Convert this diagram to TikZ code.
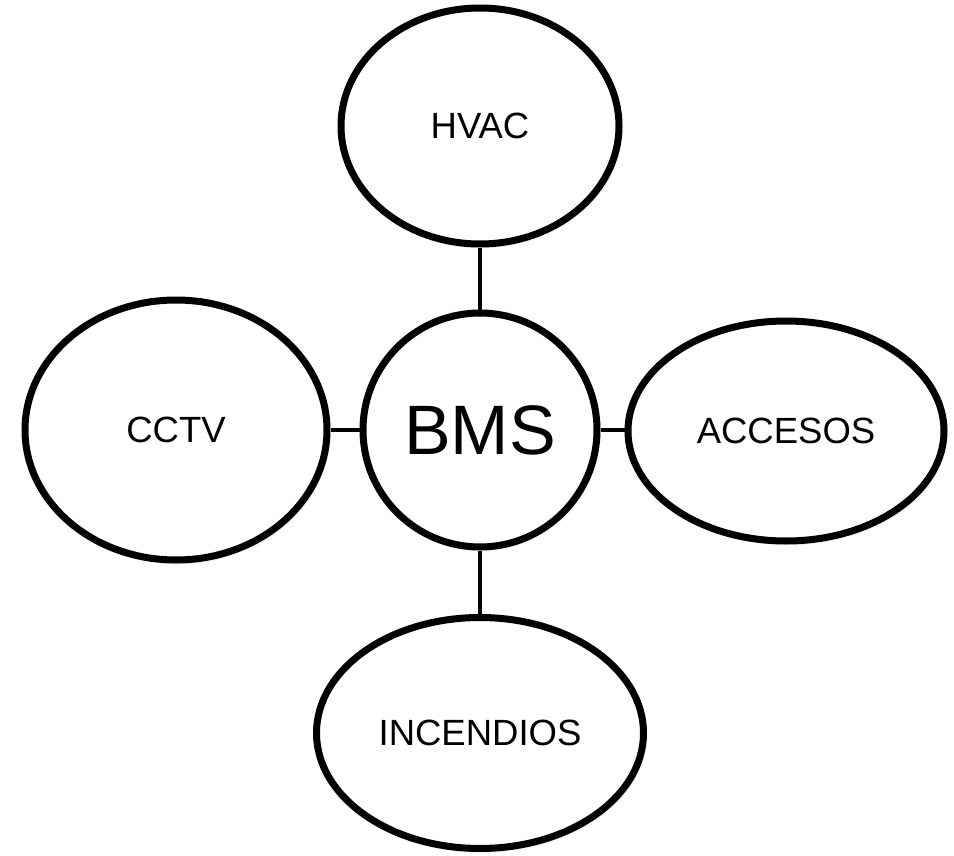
\documentclass[tikz,border=0pt]{standalone}
\usepackage{fontspec}
\setmainfont{Liberation Sans}
\usetikzlibrary{shapes.geometric,shadows.blur}
\begin{document}
\begin{tikzpicture}[x=1pt,y=-1pt,
  bubble/.style={ellipse, draw=black, line width=7pt, fill=white,
    inner sep=0pt, font=\fontsize{36.5}{40}\selectfont,
    blur shadow={shadow xshift=1.5pt, shadow yshift=-2pt,
      shadow blur radius=3pt, shadow opacity=25}},
  link/.style={draw=black, line width=4pt}]
  \useasboundingbox (0,0) rectangle (954,856);
  % central hub and the four subsystems
  \node[bubble, minimum width=234pt, minimum height=234pt,
        font=\fontsize{70}{80}\selectfont] (bms) at (480,430) {BMS};
  \node[bubble, minimum width=278pt, minimum height=236pt] (hvac) at (480,126) {HVAC};
  \node[bubble, minimum width=302pt, minimum height=260pt] (cctv) at (176,430) {CCTV};
  \node[bubble, minimum width=316pt, minimum height=220pt] (acc) at (786,431) {ACCESOS};
  \node[bubble, minimum width=327pt, minimum height=231pt] (inc) at (480,733) {INCENDIOS};
  % connectors, kept straight along the hub's axes
  \draw[link] (bms.north) -- (bms.north |- hvac.south);
  \draw[link] (bms.south) -- (bms.south |- inc.north);
  \draw[link] (bms.west) -- (bms.west -| cctv.east);
  \draw[link] (bms.east) -- (bms.east -| acc.west);
\end{tikzpicture}
\end{document}
